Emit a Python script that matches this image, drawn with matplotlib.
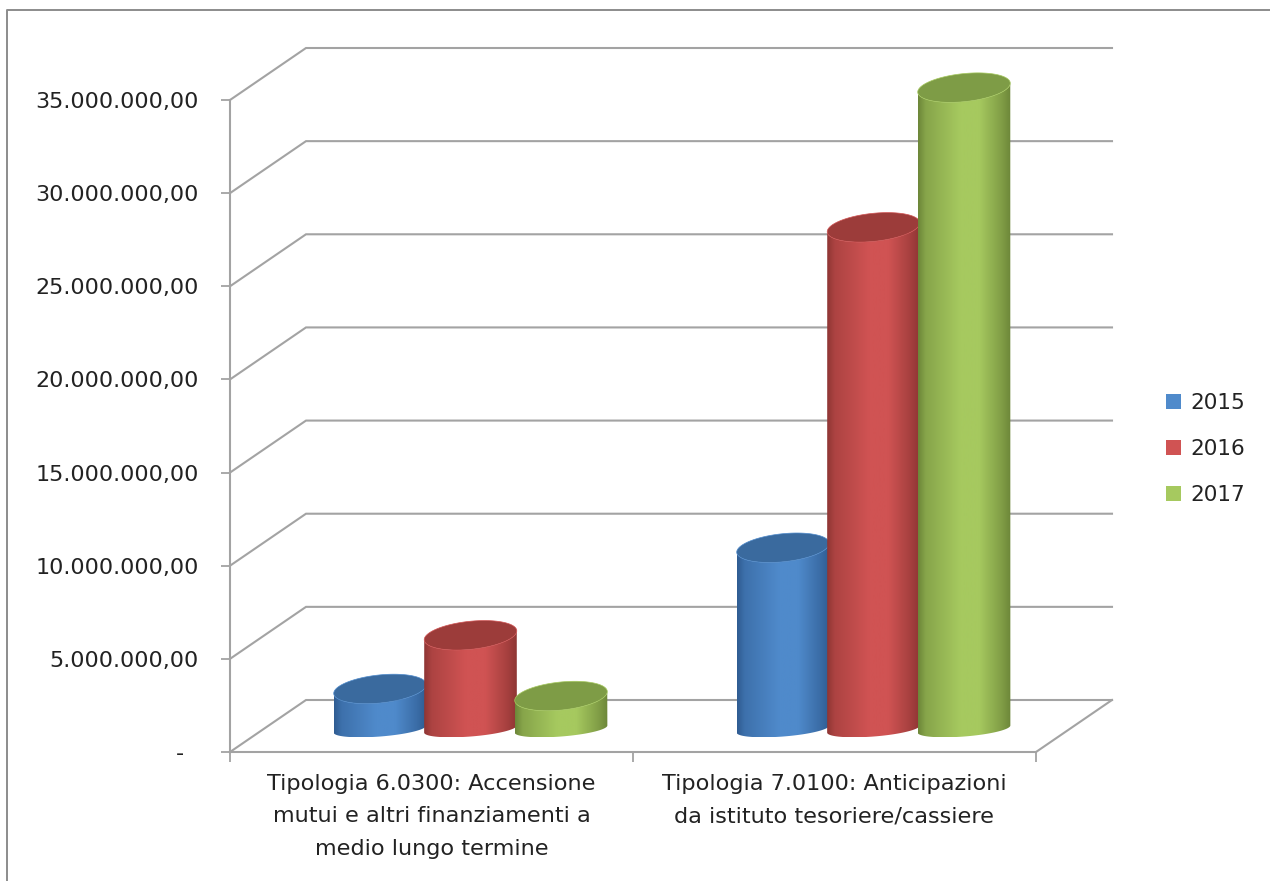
import numpy as np
import matplotlib
matplotlib.use("Agg")
import matplotlib.pyplot as plt
from matplotlib.colors import LinearSegmentedColormap, to_rgb
from matplotlib.lines import Line2D
from matplotlib.patches import Patch, Polygon

# values
categories = ["Tipologia 6.0300: Accensione\nmutui e altri finanziamenti a\nmedio lungo termine",
              "Tipologia 7.0100: Anticipazioni\nda istituto tesoriere/cassiere"]
years = ["2015", "2016", "2017"]
values_2015 = [1.72e6, 9.3e6]
values_2016 = [4.6e6, 26.5e6]
values_2017 = [1.34e6, 34.0e6]
y_ticks = [0, 5e6, 10e6, 15e6, 20e6, 25e6, 30e6, 35e6]

# colours: legend/body centre, body edge, top of the cylinder
main_colors = ["#4f8acb", "#d05353", "#a6c95f"]
edge_colors = ["#2f5c92", "#8f3634", "#6d8739"]
top_colors = ["#3a6a9e", "#9c3c3a", "#7e9c46"]
grid_color = "#a3a3a3"
text_color = "#222222"

W, H = 1270, 881
left, right, base, top = 230, 1036, 752, 100
depth_x, depth_y = 76, 52


def etichetta(v):
    if v == 0:
        return "-  "
    s = f"{v:,.2f}"
    return s.replace(",", "#").replace(".", ",").replace("#", ".")


def mix(a, b, t):
    return tuple((1 - t) * np.array(to_rgb(a)) + t * np.array(to_rgb(b)))


fig = plt.figure(figsize=(W / 100, H / 100), dpi=100)
ax = fig.add_axes([left / W, (H - base) / H, (right - left) / W, (base - top) / H])
ax.set_facecolor("none")

# border of the chart area, only left and top are inside the picture
fig.add_artist(Line2D([7 / W, 7 / W, 1], [0, (H - 10) / H, (H - 10) / H],
                      transform=fig.transFigure, color="#8c8c8c", lw=1.4))

ax.set_xlim(0, 2)
ax.set_ylim(0, 35e6)
px_x = 2 / (right - left)
px_y = 35e6 / (base - top)
dx = depth_x * px_x
dy = depth_y * px_y

# walls: diagonal + horizontal line for every tick
for v in y_ticks:
    ax.plot([0, dx, 2 + dx], [v, v + dy, v + dy], color=grid_color, lw=1.5,
            clip_on=False, zorder=1, solid_joinstyle="miter")
ax.plot([2, 2 + dx], [0, dy], color=grid_color, lw=1.5, clip_on=False, zorder=1)

for s in ["top", "right"]:
    ax.spines[s].set_visible(False)
for s in ["left", "bottom"]:
    ax.spines[s].set_color(grid_color)
    ax.spines[s].set_linewidth(1.5)

ax.set_yticks(y_ticks)
ax.set_yticklabels([etichetta(v) for v in y_ticks])
ax.tick_params(axis="y", length=6.5, width=1.3, color=grid_color, pad=16, labelsize=16,
               labelcolor=text_color)
ax.set_xticks([0, 1, 2])
ax.set_xticklabels(["", "", ""])
ax.tick_params(axis="x", length=7, width=1.3, color=grid_color)
ax.set_xticks([0.5, 1.5], minor=True)
ax.set_xticklabels(categories, minor=True, fontsize=16.1, color=text_color, linespacing=1.76)
ax.tick_params(axis="x", which="minor", length=0, pad=16)


def ellisse(cx, cy, a=46.5, b=14, tilt=6):
    # tilted ellipse, sizes in pixels, returned in data units
    t = np.linspace(0, 2 * np.pi, 181)[:-1]
    th = np.radians(tilt)
    x = a * np.cos(t) * np.cos(th) - b * np.sin(t) * np.sin(th)
    y = a * np.cos(t) * np.sin(th) + b * np.sin(t) * np.cos(th)
    return cx + x * px_x, cy + y * px_y


def lower_half(x, y):
    i_l, i_r = np.argmin(x), np.argmax(x)
    idx = np.arange(i_l, i_r + (len(x) if i_r < i_l else 0) + 1) % len(x)
    return np.column_stack([x[idx], y[idx]])


def cilindro(cx, value, i, z):
    xt, yt = ellisse(cx, 31 * px_y + value)
    xb, yb = ellisse(cx, 23 * px_y, b=7.5, tilt=4.5)
    # lower half of each ellipse, left extreme to right extreme
    low_t = lower_half(xt, yt)
    low_b = lower_half(xb, yb)
    body = np.vstack([low_b, low_t[::-1]])
    cmap = LinearSegmentedColormap.from_list("c", [(0, edge_colors[i]),
                                                   (0.08, mix(edge_colors[i], main_colors[i], 0.45)),
                                                   (0.45, main_colors[i]), (0.66, main_colors[i]),
                                                   (0.9, mix(edge_colors[i], main_colors[i], 0.35)),
                                                   (1, edge_colors[i])])
    poly = Polygon(body, closed=True, fc="none", ec="none", transform=ax.transData, zorder=z)
    ax.add_patch(poly)
    im = ax.imshow(np.linspace(0, 1, 128).reshape(1, -1), cmap=cmap, aspect="auto",
                   extent=[xt.min(), xt.max(), body[:, 1].min(), body[:, 1].max()], zorder=z)
    im.set_clip_box(fig.bbox)
    im.set_clip_path(poly)
    ax.add_patch(Polygon(np.column_stack([xt, yt]), closed=True, fc=top_colors[i],
                         ec=main_colors[i], lw=0.5, clip_on=False, zorder=z + 0.5))


bar_step = 90.5 * px_x
shift = 39 * px_x
for i, vals in enumerate([values_2015, values_2016, values_2017]):
    for c, v in enumerate(vals):
        cilindro(c + 0.5 + shift + (i - 1) * bar_step, v, i, 3 + i)

ax.set_xlim(0, 2)
ax.set_ylim(0, 35e6)

handles = [Patch(fc=c, ec="none", label=y) for c, y in zip(main_colors, years)]
ax.legend(handles=handles, loc="center left", bbox_to_anchor=(1147 / W, (H - 449) / H),
          bbox_transform=fig.transFigure, frameon=False, fontsize=15.5, labelcolor=text_color,
          labelspacing=1.2, handlelength=0.7, handleheight=0.7, handletextpad=0.42)

fig.savefig("out.png", dpi=100)
